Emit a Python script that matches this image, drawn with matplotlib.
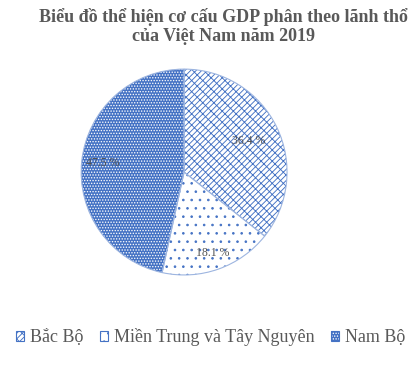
import matplotlib
matplotlib.use("Agg")
import matplotlib.pyplot as plt
from matplotlib.patches import Patch
from matplotlib.legend_handler import HandlerTuple
import numpy as np

categories = ["Bắc Bộ", "Miền Trung và Tây Nguyên", "Nam Bộ"]
values = [36.4, 18.1, 47.5]
value_labels = ["36.4 %", "18.1 %", "47.5 %"]
title = "Biểu đồ thể hiện cơ cấu GDP phân theo lãnh thổ\ncủa Việt Nam năm 2019"

blue = "#4472C4"
outline = "#9DB5E0"
grey = "#595959"
plt.rcParams["font.family"] = ["Liberation Serif", "DejaVu Serif"]
plt.rcParams["hatch.linewidth"] = 0.65

fig = plt.figure(figsize=(4.17, 3.68), dpi=100)
ax = fig.add_axes([0.192, 0.25, 0.499, 0.565])

faces = ["white", "white", blue]
hatch_colors = [blue, blue, "white"]
hatches = ["//////\\\\\\", "..", "......"]

wedges, _ = ax.pie(values, startangle=90, counterclock=False,
                   wedgeprops=dict(linewidth=0))
for w, f, hc, h in zip(wedges, faces, hatch_colors, hatches):
    w.set_facecolor(f)
    w.set_edgecolor(hc)
    w.set_hatch(h)
    w.set_linewidth(0)

# outlines
ax.pie(values, startangle=90, counterclock=False,
       wedgeprops=dict(linewidth=0.8, edgecolor=outline, fill=False))

total = sum(values)
ang0 = 90
cum = 0
dists = [0.7, 0.83, 0.8]
for v, lab, d in zip(values, value_labels, dists):
    mid = np.deg2rad(ang0 - (cum + v / 2) / total * 360)
    cum += v
    ax.text(d * np.cos(mid), d * np.sin(mid), lab, ha="center", va="center",
            fontsize=8.5, color="#505050")
ax.set_aspect("equal")
ax.set_xlim(-1.01, 1.01)
ax.set_ylim(-1.01, 1.01)

fig.text(0.535, 0.978, title, ha="center", va="top", fontsize=13,
         fontweight="bold", color=grey, linespacing=1.12)

handles = [(Patch(facecolor=f, edgecolor=hc, hatch=h, linewidth=0),
            Patch(fill=False, edgecolor=blue, linewidth=0.8))
           for f, hc, h in zip(faces, hatch_colors, hatches)]
leg = fig.legend(handles, categories, loc="center", bbox_to_anchor=(0.505, 0.083),
                 ncol=3, frameon=False, fontsize=13, handlelength=0.45,
                 handleheight=0.45, handletextpad=0.35, columnspacing=0.9,
                 handler_map={tuple: HandlerTuple(ndivide=1, pad=0)})
for t in leg.get_texts():
    t.set_color(grey)

fig.savefig("out.png", dpi=100)
